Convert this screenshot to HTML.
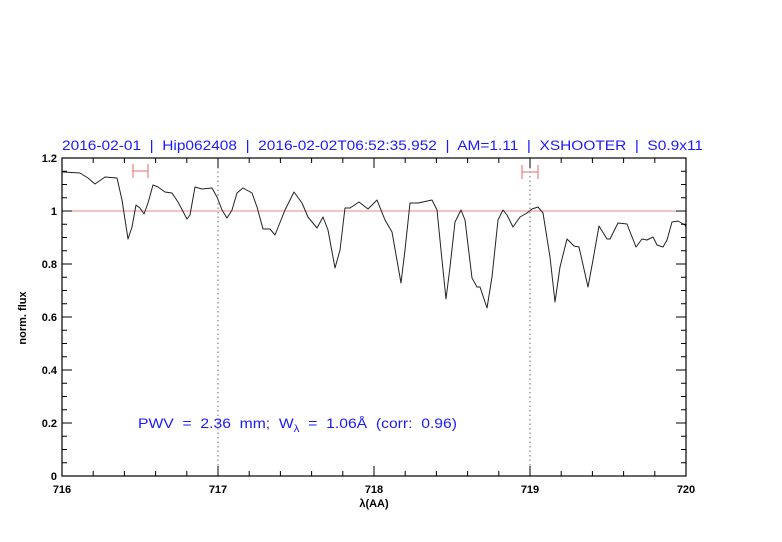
<!DOCTYPE html>
<html><head><meta charset="utf-8"><style>html,body{margin:0;padding:0;background:#fff}svg{display:block}</style></head>
<body>
<svg width="782" height="542" viewBox="0 0 782 542" xmlns="http://www.w3.org/2000/svg" font-family="Liberation Sans, sans-serif">
<rect width="782" height="542" fill="#fff"/>
<text x="62" y="150" fill="#1a1aff" font-size="13.5" textLength="641" lengthAdjust="spacingAndGlyphs" xml:space="preserve" style="white-space:pre">2016-02-01  |  Hip062408  |  2016-02-02T06:52:35.952  |  AM=1.11  |  XSHOOTER  |  S0.9x11</text>
<line x1="62" y1="211" x2="686" y2="211" stroke="#e88a84" stroke-width="1"/>
<line x1="218" y1="158" x2="218" y2="476" stroke="#444" stroke-width="0.8" stroke-dasharray="1.5,3"/>
<line x1="530" y1="158" x2="530" y2="476" stroke="#444" stroke-width="0.8" stroke-dasharray="1.5,3"/>
<g stroke="#f08080" stroke-width="1.2">
<line x1="133" y1="171" x2="148" y2="171"/><line x1="133" y1="164" x2="133" y2="178"/><line x1="148" y1="164" x2="148" y2="178"/>
<line x1="522" y1="172" x2="538" y2="172"/><line x1="522" y1="165" x2="522" y2="179"/><line x1="538" y1="165" x2="538" y2="179"/>
</g>
<polyline id="spec" fill="none" stroke="#222" stroke-width="1" stroke-linejoin="round" points="62,171 63,172 80,173 88,178 95,184 105,177 117,178 122,200 128,239 132,227 136,205 140,208 144,214 148,203 153,185 158,187 165,192 172,193 178,202 187,219 190,215 195,187 202,189 212,188 217,197 222,210 227,218 232,210 237,193 243,188 252,193 257,207 263,229 270,229 275,235 285,210 294,192 302,203 308,217 317,228 323,217 328,230 335,268 340,250 345,208 350,208 359,202 368,209 375,202 377,200 385,220 392,232 401,283 405,250 410,203 418,203 432,200 437,210 442,260 446,299 450,267 455,222 461,210 465,220 472,278 477,287 480,287 487,308 492,277 498,220 503,210 507,215 513,227 520,217 527,213 532,209 538,207 543,213 550,257 555,302 560,267 567,239 574,246 579,247 588,287 593,260 599,226 607,239 610,239 618,223 627,224 636,247 642,239 647,240 653,237 657,245 663,247 667,240 672,222 678,221 685,225 686,227"/>
<rect x="62" y="158" width="624" height="318" fill="none" stroke="#000" stroke-width="1.2"/>
<g stroke="#000" stroke-width="1">
<path d="M62,476v-10M218,476v-10M374,476v-10M530,476v-10M686,476v-10 M62,158v10M218,158v10M374,158v10M530,158v10M686,158v10"/>
<path d="M93.2,476v-5M124.4,476v-5M155.6,476v-5M186.8,476v-5M249.2,476v-5M280.4,476v-5M311.6,476v-5M342.8,476v-5M405.2,476v-5M436.4,476v-5M467.6,476v-5M498.8,476v-5M561.2,476v-5M592.4,476v-5M623.6,476v-5M654.8,476v-5
M93.2,158v5M124.4,158v5M155.6,158v5M186.8,158v5M249.2,158v5M280.4,158v5M311.6,158v5M342.8,158v5M405.2,158v5M436.4,158v5M467.6,158v5M498.8,158v5M561.2,158v5M592.4,158v5M623.6,158v5M654.8,158v5"/>
<path d="M62,476h10M62,423h10M62,370h10M62,317h10M62,264h10M62,211h10M62,158h10 M686,476h-10M686,423h-10M686,370h-10M686,317h-10M686,264h-10M686,211h-10M686,158h-10"/>
<path d="M62,462.75h5M62,449.5h5M62,436.25h5M62,409.75h5M62,396.5h5M62,383.25h5M62,356.75h5M62,343.5h5M62,330.25h5M62,303.75h5M62,290.5h5M62,277.25h5M62,250.75h5M62,237.5h5M62,224.25h5M62,197.75h5M62,184.5h5M62,171.25h5
M686,462.75h-5M686,449.5h-5M686,436.25h-5M686,409.75h-5M686,396.5h-5M686,383.25h-5M686,356.75h-5M686,343.5h-5M686,330.25h-5M686,303.75h-5M686,290.5h-5M686,277.25h-5M686,250.75h-5M686,237.5h-5M686,224.25h-5M686,197.75h-5M686,184.5h-5M686,171.25h-5"/>
</g>
<g font-size="11" font-weight="bold" fill="#000" text-anchor="end">
<text x="57" y="480">0</text><text x="57" y="427">0.2</text><text x="57" y="374">0.4</text><text x="57" y="321">0.6</text><text x="57" y="268">0.8</text><text x="57" y="215">1</text><text x="57" y="162">1.2</text>
</g>
<g font-size="11" font-weight="bold" fill="#000" text-anchor="middle">
<text x="62" y="493">716</text><text x="218" y="493">717</text><text x="374" y="493">718</text><text x="530" y="493">719</text><text x="686" y="493">720</text>
<text x="374" y="507">λ(AA)</text>
<text transform="translate(26,318) rotate(-90)">norm. flux</text>
</g>
<text x="138" y="428" fill="#1a1aff" font-size="13.5" textLength="319" lengthAdjust="spacingAndGlyphs" xml:space="preserve" style="white-space:pre">PWV  =  2.36  mm;  W<tspan font-size="10" dy="4">λ</tspan><tspan dy="-4">  =  1.06Å  (corr:  0.96)</tspan></text>
<script>
(function(){var pl=document.getElementById('spec');var p=pl.getAttribute('points').trim().split(/\s+/).map(function(s){return s.split(',').map(Number)});
var d='M'+p[0][0]+','+p[0][1];for(var i=0;i<p.length-1;i++){var a=p[Math.max(i-1,0)],b=p[i],c=p[i+1],e=p[Math.min(i+2,p.length-1)];
d+=' C'+(b[0]+(c[0]-a[0])/6).toFixed(2)+','+(b[1]+(c[1]-a[1])/6).toFixed(2)+' '+(c[0]-(e[0]-b[0])/6).toFixed(2)+','+(c[1]-(e[1]-b[1])/6).toFixed(2)+' '+c[0]+','+c[1];}
var ns='http://www.w3.org/2000/svg';var path=document.createElementNS(ns,'path');path.setAttribute('d',d);path.setAttribute('fill','none');path.setAttribute('stroke','#222');path.setAttribute('stroke-width','1');pl.parentNode.replaceChild(path,pl);})();
</script>
</svg>
</body></html>
